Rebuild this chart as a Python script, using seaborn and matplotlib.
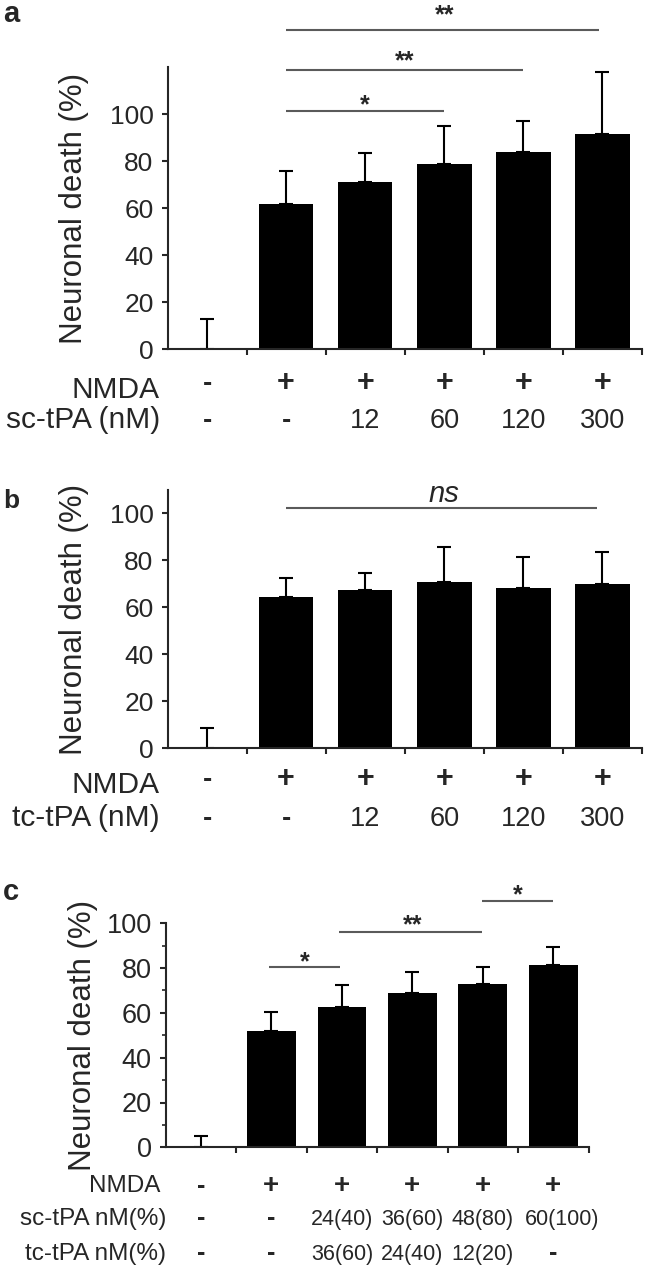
import numpy as np
import matplotlib
matplotlib.use("Agg")
import matplotlib.pyplot as plt
import matplotlib.transforms as mtransforms
import seaborn as sns

# ---------------- data ----------------
# panel a : sc-tPA dose response
a_groups = ["Control", "NMDA", "NMDA+sc12", "NMDA+sc60", "NMDA+sc120", "NMDA+sc300"]
a_mean = [0.0, 61.7, 71.3, 79.0, 84.0, 91.8]
a_err = [13.0, 14.3, 12.2, 16.0, 13.0, 26.2]
a_nmda = ["-", "+", "+", "+", "+", "+"]
a_dose = ["-", "-", "12", "60", "120", "300"]

# panel b : tc-tPA dose response
b_groups = ["Control", "NMDA", "NMDA+tc12", "NMDA+tc60", "NMDA+tc120", "NMDA+tc300"]
b_mean = [0.0, 64.3, 67.5, 70.9, 68.3, 69.8]
b_err = [8.5, 8.3, 7.0, 14.6, 13.2, 13.9]
b_nmda = ["-", "+", "+", "+", "+", "+"]
b_dose = ["-", "-", "12", "60", "120", "300"]

# panel c : sc/tc mixtures
c_groups = ["Control", "NMDA", "sc24/tc36", "sc36/tc24", "sc48/tc12", "sc60"]
c_mean = [0.0, 51.9, 62.8, 69.0, 73.0, 81.4]
c_err = [5.0, 8.5, 9.5, 9.1, 7.6, 7.9]
c_nmda = ["-", "+", "+", "+", "+", "+"]
c_sc = ["-", "-", "24(40)", "36(60)", "48(80)", "60(100)"]
c_tc = ["-", "-", "36(60)", "24(40)", "12(20)", "-"]

# significance brackets: (x1, x2, y_line, star_x, star_y, text)
a_sig = [(1.0, 3.0, 101.3, 2.0, 100.8, "*"),
         (1.0, 4.0, 118.7, 2.5, 119.5, "**"),
         (1.0, 4.95, 136.0, 3.0, 139.0, "**")]
b_sig = [(1.0, 4.93, 102.1, 3.0, 105.0, "ns")]
c_sig = [(0.97, 1.98, 80.3, 1.48, 79.6, "*"),
         (1.96, 3.99, 96.0, 3.0, 96.0, "**"),
         (3.99, 5.0, 110.0, 4.5, 109.4, "*")]

# ---------------- style ----------------
sns.set_style("ticks")
plt.rcParams["font.family"] = ["Liberation Sans", "DejaVu Sans"]

W, H = 645, 1271
fig = plt.figure(figsize=(W / 100, H / 100), dpi=100)


def fy(ypix):
    return 1 - ypix / H


def fx(xpix):
    return xpix / W


def panel(rect_px, groups, mean, err, ylim, yticks, minor, tsize, label_x):
    l, r, b, t = rect_px
    ax = fig.add_axes([fx(l), fy(b), (r - l) / W, (b - t) / H])
    sns.barplot(x=groups, y=mean, color="black", saturation=1, width=0.69,
                errorbar=None, linewidth=0, ax=ax)
    ax.errorbar(np.arange(len(groups)), mean,
                yerr=[np.zeros(len(groups)), err], fmt="none",
                ecolor="black", elinewidth=1.5, capsize=5, capthick=1.5,
                zorder=1)
    ax.set_xlim(-0.5, len(groups) - 0.5)
    ax.set_ylim(*ylim)
    ax.set_yticks(yticks)
    ax.set_yticklabels([str(v) for v in yticks])
    if minor is not None:
        ax.set_yticks(minor, minor=True)
    ax.set_xticks(np.arange(0.5, len(groups), 1.0))
    ax.set_xticklabels([])
    ax.set_xlabel("")
    sns.despine(ax=ax)
    for s in ["left", "bottom"]:
        ax.spines[s].set_linewidth(1.5)
    ax.tick_params(axis="x", direction="out", length=4, width=1.5)
    ax.tick_params(axis="y", which="major", direction="out", length=4,
                   width=1.5, labelsize=tsize, pad=6)
    ax.tick_params(axis="y", which="minor", direction="out", length=3,
                   width=1.2)
    ax.set_ylabel("Neuronal death (%)", fontsize=22.5)
    ax.yaxis.set_label_coords(label_x, 0.5)
    ax.patch.set_alpha(0)
    return ax


def sig(ax, items, size, italic=False):
    for x1, x2, yl, xs, ys, txt in items:
        ax.plot([x1, x2], [yl, yl], color="#5a5a5a", lw=1.5,
                solid_capstyle="butt", clip_on=False)
        if italic:
            ax.text(xs, ys, txt, ha="center", va="baseline", fontsize=size,
                    style="italic")
        else:
            ax.text(xs, ys, txt, ha="center", va="baseline", fontsize=size,
                    fontweight="bold")


def row(ax, values, ypix, numsize, symsize, dashsize, shifts=None):
    tr = mtransforms.blended_transform_factory(ax.transData, fig.transFigure)
    for i, v in enumerate(values):
        dx = 0 if shifts is None else shifts[i]
        if v == "+":
            ax.text(i + dx, fy(ypix), v, transform=tr, ha="center",
                    va="baseline", fontsize=symsize, fontweight="bold")
        elif v == "-":
            ax.text(i + dx, fy(ypix), v, transform=tr, ha="center",
                    va="baseline", fontsize=dashsize, fontweight="bold")
        else:
            ax.text(i + dx, fy(ypix), v, transform=tr, ha="center",
                    va="baseline", fontsize=numsize)


# ---------------- panel a ----------------
axa = panel((167.5, 642, 349.3, 67.3), a_groups, a_mean, a_err, (0, 120),
            [0, 20, 40, 60, 80, 100], None, 19, -0.165)
sig(axa, a_sig, 18)
row(axa, a_nmda, 391, 19.5, 22, 20)
row(axa, a_dose, 428, 19.5, 22, 20)
fig.text(fx(160), fy(398), "NMDA", ha="right", va="baseline", fontsize=21.5)
fig.text(fx(160), fy(428), "sc-tPA (nM)", ha="right", va="baseline", fontsize=21.5)
fig.text(fx(3), fy(22), "a", ha="left", va="baseline", fontsize=21,
         fontweight="bold")

# ---------------- panel b ----------------
axb = panel((167.5, 642, 748.3, 489.8), b_groups, b_mean, b_err, (0, 110),
            [0, 20, 40, 60, 80, 100], None, 19, -0.165)
sig(axb, b_sig, 21, italic=True)
row(axb, b_nmda, 787, 19.5, 22, 20)
row(axb, b_dose, 826, 19.5, 22, 20)
fig.text(fx(160), fy(793), "NMDA", ha="right", va="baseline", fontsize=21.5)
fig.text(fx(160), fy(826), "tc-tPA (nM)", ha="right", va="baseline", fontsize=21.5)
fig.text(fx(3), fy(508), "b", ha="left", va="baseline", fontsize=19,
         fontweight="bold")

# ---------------- panel c ----------------
axc = panel((165.7, 588.5, 1147.3, 923.3), c_groups, c_mean, c_err, (0, 100),
            [0, 20, 40, 60, 80, 100], [10, 30, 50, 70, 90], 19.5, -0.16)
sig(axc, c_sig, 18)
row(axc, c_nmda, 1193, 15.5, 20, 18)
row(axc, c_sc, 1225, 15.5, 20, 18, shifts=[0, 0, 0, 0, 0, 0.13])
row(axc, c_tc, 1260, 15.5, 20, 18)
fig.text(fx(160), fy(1192), "NMDA", ha="right", va="baseline", fontsize=17.5)
fig.text(fx(166), fy(1225), "sc-tPA nM(%)", ha="right", va="baseline", fontsize=17.5)
fig.text(fx(166), fy(1260), "tc-tPA nM(%)", ha="right", va="baseline", fontsize=17.5)
fig.text(fx(3), fy(900), "c", ha="left", va="baseline", fontsize=21,
         fontweight="bold")

fig.savefig("out.png", dpi=100)
